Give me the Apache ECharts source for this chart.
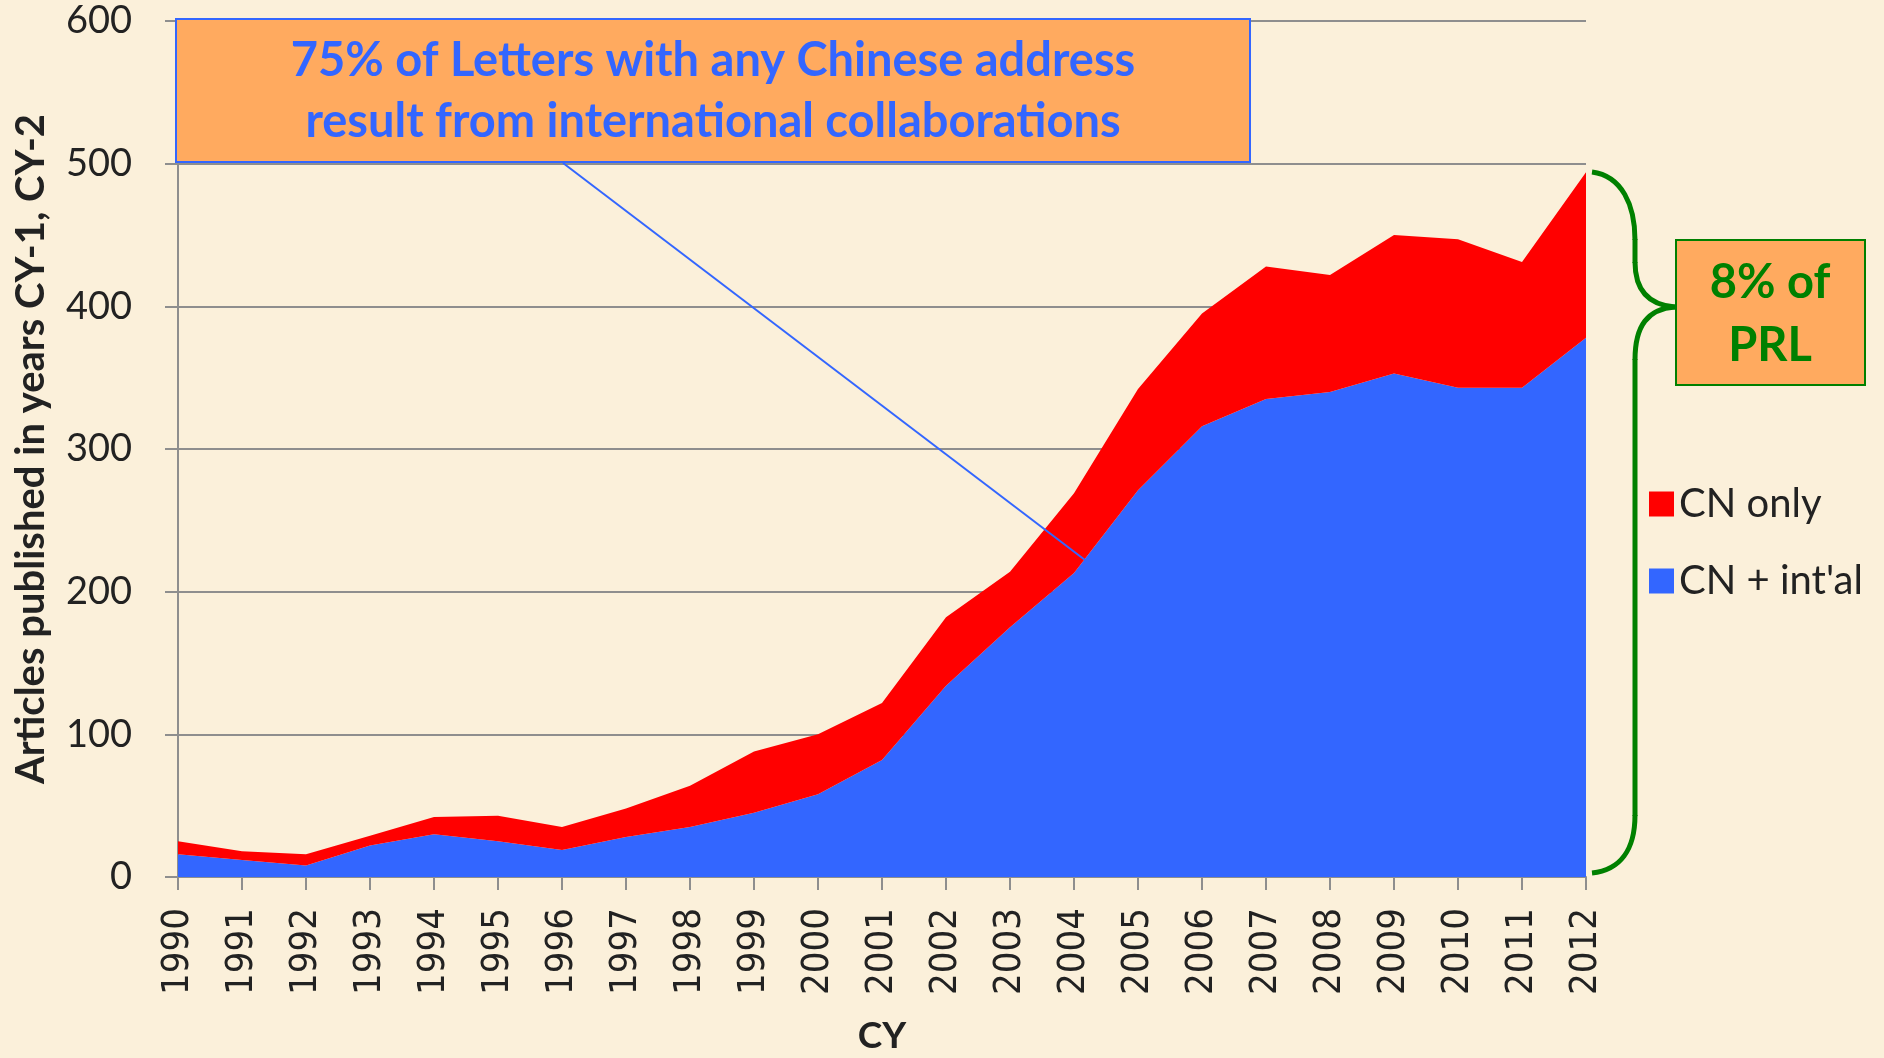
<!DOCTYPE html>
<html>
<head>
<meta charset="utf-8">
<title>CN letters</title>
<script src="https://cdn.jsdelivr.net/npm/echarts@6/dist/echarts.min.js"></script>
<style>
  html, body { margin: 0; padding: 0; background: #FBF0DA; }
  #chart { width: 1884px; height: 1058px; }
</style>
</head>
<body>
<div id="chart"></div>
<script>
// years (CY)
var years = ['1990','1991','1992','1993','1994','1995','1996','1997','1998','1999','2000',
             '2001','2002','2003','2004','2005','2006','2007','2008','2009','2010','2011','2012'];
// Letters with a Chinese address and an international co-author
var intlValues = [16, 12, 8, 22, 30, 25, 19, 28, 35, 45, 58, 82, 134, 175, 213, 271, 316, 335, 340, 353, 343, 343, 378];
// Letters with Chinese addresses only
var cnOnlyValues = [9, 6, 8, 7, 12, 18, 16, 20, 29, 43, 42, 40, 48, 39, 56, 71, 79, 93, 82, 97, 104, 88, 116];
var yTicks = [0, 100, 200, 300, 400, 500, 600];

var seriesNames = ['CN only', "CN + int'al"];
var noteLines = ['75% of Letters with any Chinese address', 'result from international collaborations'];
var prlLines = ['8% of', 'PRL'];

var chart = {
	init: function(){
		this.render();
	},
	render: function(){
		var myChart = echarts.init(document.getElementById('chart'));
		myChart.setOption(this.getOption());
	},
	brace: function(){
		// curly brace right of the 2012 column
		var st = { fill: null, stroke: '#008000', lineWidth: 5 };
		var parts = [
			{ type: 'bezierCurve', shape: { x1: 1592, y1: 172, cpx1: 1622, cpy1: 176, cpx2: 1635, cpy2: 205, x2: 1635, y2: 240 } },
			{ type: 'line', shape: { x1: 1635, y1: 239, x2: 1635, y2: 263 } },
			{ type: 'bezierCurve', shape: { x1: 1635, y1: 262, cpx1: 1635, cpy1: 290, cpx2: 1648, cpy2: 305, x2: 1675, y2: 307 } },
			{ type: 'bezierCurve', shape: { x1: 1675, y1: 307, cpx1: 1648, cpy1: 309, cpx2: 1635, cpy2: 325, x2: 1635, y2: 360 } },
			{ type: 'line', shape: { x1: 1635, y1: 359, x2: 1635, y2: 816 } },
			{ type: 'bezierCurve', shape: { x1: 1635, y1: 815, cpx1: 1635, cpy1: 850, cpx2: 1620, cpy2: 870, x2: 1592, y2: 873 } }
		];
		parts.forEach(function(p){ p.z = 100; p.style = st; });
		return parts;
	},
	getOption: function(){
		var gray = '#8E8E8E';
		var orange = '#FFAA5F';
		var graphics = [
			// callout box, top left
			{ type: 'rect', z: 100, shape: { x: 176, y: 19, width: 1074, height: 143 },
			  style: { fill: orange, stroke: '#3366FF', lineWidth: 2 } },
			{ type: 'text', z: 101, x: 713, y: 61,
			  style: { text: noteLines[0], fill: '#3366FF', font: 'bold 47px Lato', align: 'center', verticalAlign: 'middle' } },
			{ type: 'text', z: 101, x: 713, y: 122,
			  style: { text: noteLines[1], fill: '#3366FF', font: 'bold 47px Lato', align: 'center', verticalAlign: 'middle' } },
			{ type: 'line', z: 100, shape: { x1: 563, y1: 163, x2: 1085, y2: 560 },
			  style: { stroke: '#3366FF', lineWidth: 2 } },
			// PRL box
			{ type: 'rect', z: 100, shape: { x: 1676, y: 240, width: 189, height: 145 },
			  style: { fill: orange, stroke: '#008000', lineWidth: 2 } },
			{ type: 'text', z: 101, x: 1770, y: 283,
			  style: { text: prlLines[0], fill: '#008000', font: 'bold 47px Lato', align: 'center', verticalAlign: 'middle' } },
			{ type: 'text', z: 101, x: 1770, y: 346,
			  style: { text: prlLines[1], fill: '#008000', font: 'bold 47px Lato', align: 'center', verticalAlign: 'middle' } }
		].concat(this.brace());

		return {
			backgroundColor: '#FBF0DA',
			animation: false,
			grid: { left: 178, right: 298, top: 21, bottom: 181, outerBoundsMode: 'none' },
			legend: {
				data: seriesNames,
				orient: 'vertical',
				left: 1644, top: 479,
				icon: 'rect',
				itemWidth: 25, itemHeight: 25,
				itemGap: 37,
				textStyle: { fontFamily: 'Lato', fontSize: 40, color: '#222' }
			},
			xAxis: {
				type: 'category',
				data: years,
				boundaryGap: false,
				name: 'CY',
				nameLocation: 'middle',
				nameGap: 141,
				nameTextStyle: { fontFamily: 'Lato', fontWeight: 'bold', fontSize: 37, color: '#222' },
				axisLine: { lineStyle: { color: gray, width: 2 } },
				axisTick: { show: true, length: 13, lineStyle: { color: gray, width: 2 } },
				axisLabel: { rotate: 90, margin: 31, fontFamily: '"DejaVu Sans Condensed", "DejaVu Sans"', fontSize: 38, color: '#222', interval: 0 },
				splitLine: { show: false }
			},
			yAxis: {
				type: 'value',
				min: 0, max: 600, interval: 100,
				name: 'Articles published in years CY-1, CY-2',
				nameLocation: 'middle',
				nameGap: 127,
				nameTextStyle: { fontFamily: 'Lato', fontWeight: 'bold', fontSize: 40, color: '#222' },
				axisLine: { show: true, lineStyle: { color: gray, width: 2 } },
				axisTick: { show: true, length: 13, lineStyle: { color: gray, width: 2 } },
				axisLabel: {
					margin: 46, fontFamily: 'Lato', fontSize: 38, color: '#222',
					formatter: function(v){ return yTicks.indexOf(v) >= 0 ? String(v) : ''; }
				},
				splitLine: { lineStyle: { color: gray, width: 2 } }
			},
			series: [
				{
					name: seriesNames[1], type: 'line', stack: 'total',
					data: intlValues, symbol: 'none',
					lineStyle: { width: 0 },
					itemStyle: { color: '#3366FF' },
					areaStyle: { color: '#3366FF', opacity: 1 }
				},
				{
					name: seriesNames[0], type: 'line', stack: 'total',
					data: cnOnlyValues, symbol: 'none',
					lineStyle: { width: 0 },
					itemStyle: { color: '#FF0000' },
					areaStyle: { color: '#FF0000', opacity: 1 }
				}
			],
			graphic: graphics
		};
	}
};

chart.init();
</script>
</body>
</html>
